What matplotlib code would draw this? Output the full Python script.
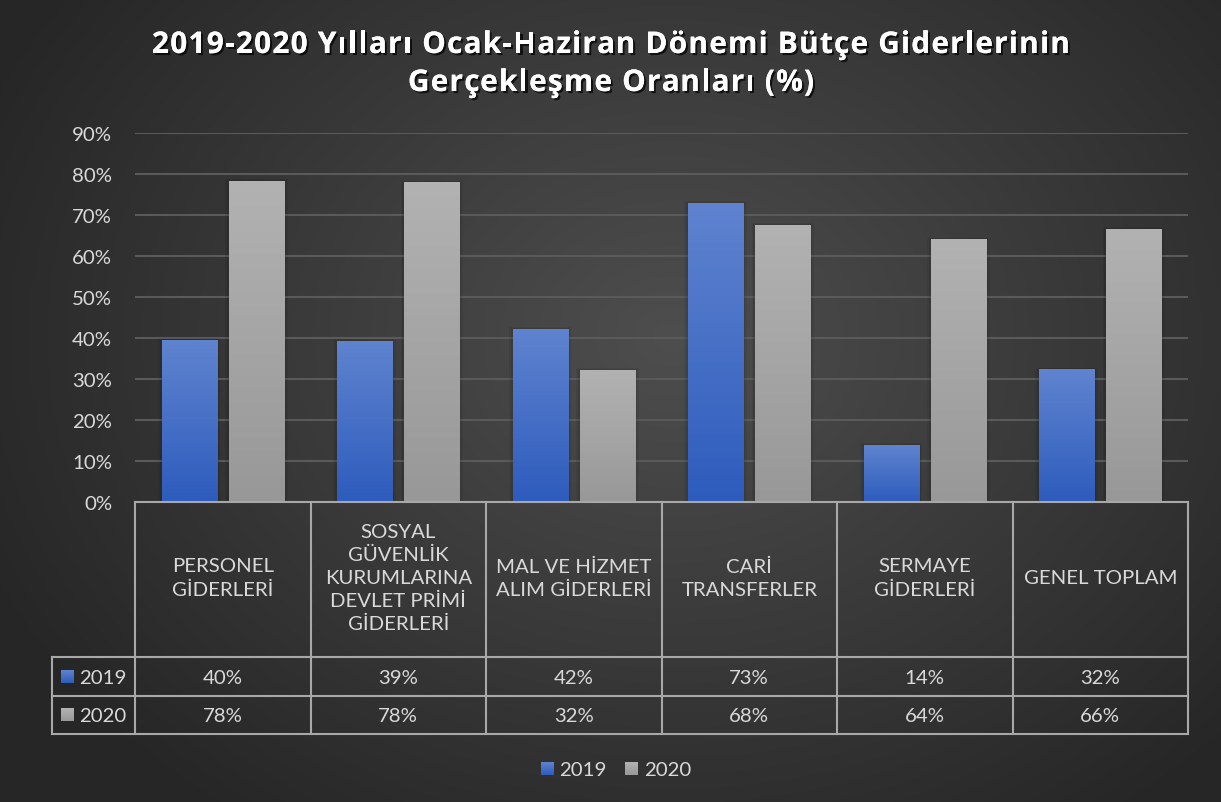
import numpy as np
import matplotlib
matplotlib.use("Agg")
import matplotlib.pyplot as plt
from matplotlib import patheffects as pe
from matplotlib.patches import Rectangle

categories = ["PERSONEL\nGİDERLERİ",
              "SOSYAL\nGÜVENLİK\nKURUMLARINA\nDEVLET PRİMİ\nGİDERLERİ",
              "MAL VE HİZMET\nALIM GİDERLERİ",
              "CARİ\nTRANSFERLER",
              "SERMAYE\nGİDERLERİ",
              "GENEL TOPLAM"]
series_names = ["2019", "2020"]
values_2019 = [39.5, 39.3, 42.2, 72.9, 13.9, 32.4]
values_2020 = [78.3, 78.0, 32.2, 67.6, 64.1, 66.6]
labels_2019 = ["40%", "39%", "42%", "73%", "14%", "32%"]
labels_2020 = ["78%", "78%", "32%", "68%", "64%", "66%"]
yticks = [0, 10, 20, 30, 40, 50, 60, 70, 80, 90]
title_lines = ["2019-2020 Yılları Ocak-Haziran Dönemi Bütçe Giderlerinin",
               "Gerçekleşme Oranları (%)"]

W, H = 1221, 803
fig = plt.figure(figsize=(W / 100, H / 100), dpi=100)

# background radial gradient
bg = fig.add_axes([0, 0, 1, 1], zorder=0)
yy, xx = np.mgrid[0:H, 0:W]
cx, cy = W * 0.55, H * 0.42
r = np.sqrt(((xx - cx) / (W * 0.62)) ** 2 + ((yy - cy) / (H * 0.75)) ** 2)
r = np.clip(r, 0, 1)
c0, c1 = np.array([0x4e, 0x4e, 0x4e]) / 255, np.array([0x26, 0x26, 0x26]) / 255
img = c0[None, None, :] * (1 - r[..., None]) + c1[None, None, :] * r[..., None]
bg.imshow(img, extent=[0, W, H, 0], aspect="auto")
bg.set_xlim(0, W)
bg.set_ylim(H, 0)
bg.axis("off")

FONT = ["Lato", "DejaVu Sans"]
TXT = "#d9d9d9"
FS = 14.7

# main axes
L, R, T, B = 135, 1188, 134, 503
ax = fig.add_axes([L / W, 1 - B / H, (R - L) / W, (B - T) / H], zorder=2)
ax.patch.set_alpha(0)
n = len(categories)
x = np.arange(n)
bw = 0.315
gap = 0.068
ax.set_xlim(-0.5, n - 0.5)
ax.set_ylim(0, 90)
ax.set_yticks(yticks)
ax.set_yticklabels([f"{t}%" for t in yticks], fontsize=FS, color=TXT, family=FONT)
ax.tick_params(axis="y", length=0, pad=16.5)
ax.set_xticks([])
for s in ax.spines.values():
    s.set_visible(False)
ax.yaxis.grid(True, color="#5a5a5a", linewidth=1.5)
ax.set_axisbelow(True)

def grad_bar(xc, h, top, bot):
    x0 = xc - bw / 2
    for k, a in ((0.02, 0.06), (0.01, 0.08)):
        ax.add_patch(Rectangle((x0 - k, 0), bw + 2 * k, h + k * 20, color="black", alpha=a, zorder=2, lw=0))
    g = np.linspace(0, 1, 100)[:, None, None]
    cimg = np.array(top)[None, None, :] * (1 - g) + np.array(bot)[None, None, :] * g
    im = ax.imshow(cimg, extent=[x0, x0 + bw, 0, h], aspect="auto", zorder=3, origin="upper")
    rect = Rectangle((x0, 0), bw, h, transform=ax.transData, fc="none", ec="none")
    ax.add_patch(rect)
    im.set_clip_path(rect)

blue_top = np.array([0x5f, 0x83, 0xcf]) / 255
blue_bot = np.array([0x2e, 0x5c, 0xbd]) / 255
gray_top = np.array([0xb2, 0xb2, 0xb2]) / 255
gray_bot = np.array([0x98, 0x98, 0x98]) / 255
for i in range(n):
    grad_bar(x[i] - gap / 2 - bw / 2, values_2019[i], blue_top, blue_bot)
    grad_bar(x[i] + gap / 2 + bw / 2, values_2020[i], gray_top, gray_bot)
ax.set_xlim(-0.5, n - 0.5)
ax.set_ylim(0, 90)

# overlay for table / title / legend in pixel coords
ov = fig.add_axes([0, 0, 1, 1], zorder=3)
ov.set_xlim(0, W)
ov.set_ylim(H, 0)
ov.axis("off")
ov.patch.set_alpha(0)

LC = "#a8a8a8"
lw = 1.5
cw = (R - L) / n
hdr_bot, r1_bot, r2_bot = 658, 697, 735
tl = 52
ov.plot([L, R], [B, B], color=LC, lw=lw)
for yv in (hdr_bot, r1_bot, r2_bot):
    ov.plot([tl, R], [yv, yv], color=LC, lw=lw)
for i in range(n + 1):
    xv = L + i * cw
    ov.plot([xv, xv], [B, r2_bot], color=LC, lw=lw)
ov.plot([tl, tl], [hdr_bot, r2_bot], color=LC, lw=lw)

for i in range(n):
    xc = L + (i + 0.5) * cw
    ov.text(xc, (B + hdr_bot) / 2 - 2, categories[i], ha="center", va="center",
            fontsize=FS, color=TXT, family=FONT, linespacing=1.42)
    ov.text(xc, (hdr_bot + r1_bot) / 2 + 1, labels_2019[i], ha="center", va="center",
            fontsize=FS, color=TXT, family=FONT)
    ov.text(xc, (r1_bot + r2_bot) / 2 + 1, labels_2020[i], ha="center", va="center",
            fontsize=FS, color=TXT, family=FONT)

def swatch(x0, yc, top, bot):
    g = np.linspace(0, 1, 50)[:, None, None]
    cimg = top[None, None, :] * (1 - g) + bot[None, None, :] * g
    ov.imshow(cimg, extent=[x0, x0 + 13, yc + 6.5, yc - 6.5], aspect="auto", zorder=4)

for k, (top, bot) in enumerate([(blue_top, blue_bot), (gray_top, gray_bot)]):
    yc = (hdr_bot + r1_bot) / 2 if k == 0 else (r1_bot + r2_bot) / 2
    swatch(61, yc, top, bot)
    ov.text(79, yc + 1, series_names[k], ha="left", va="center", fontsize=FS, color=TXT, family=FONT)

# legend
swatch(541, 770, blue_top, blue_bot)
ov.text(559, 771, series_names[0], ha="left", va="center", fontsize=FS, color=TXT, family=FONT)
swatch(625, 770, gray_top, gray_bot)
ov.text(644, 771, series_names[1], ha="left", va="center", fontsize=FS, color=TXT, family=FONT)

ov.set_xlim(0, W)
ov.set_ylim(H, 0)

# title with letter spacing (per-character placement)
renderer = fig.canvas.get_renderer()
TFS = 21.5
track = 1.15  # extra px between characters
tfont = dict(fontsize=TFS, fontweight="bold", color="white", family=["Open Sans", "DejaVu Sans"])
shadow = [pe.withSimplePatchShadow(offset=(1.5, -1.5), shadow_rgbFace="black", alpha=0.7), pe.Normal()]

def prefix_width(s):
    if not s:
        return 0.0
    tmp = ov.text(0, 0, s.replace(" ", "\u00a0"), **tfont)
    w = tmp.get_window_extent(renderer).width
    tmp.remove()
    return w

for yv, line in zip((46, 84), title_lines):
    offs = [prefix_width(line[:k]) + k * track for k in range(len(line) + 1)]
    total = offs[-1] - track
    x0 = 611 - total / 2
    for k, ch in enumerate(line):
        if ch == " ":
            continue
        t = ov.text(x0 + offs[k], yv, ch, ha="left", va="center", **tfont)
        t.set_path_effects(shadow)

fig.savefig("out.png", dpi=100)
